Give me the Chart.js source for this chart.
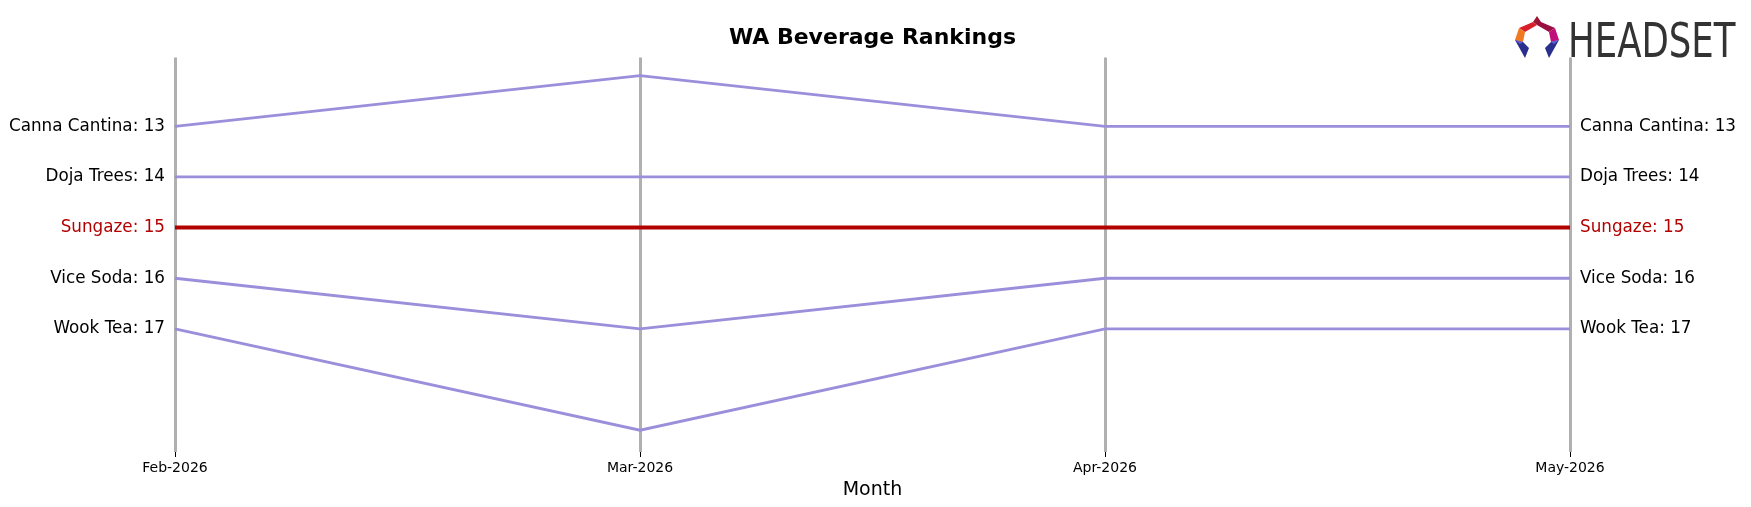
<!DOCTYPE html>
<html><head><meta charset="utf-8">
<script src="https://cdn.jsdelivr.net/npm/chart.js@4"></script>
<style>html,body{margin:0;padding:0;background:#fff}#w{width:1751px;height:507px}</style>
</head><body><div id="w"><canvas id="c"></canvas></div>
<script>
const months = ["Feb-2026","Mar-2026","Apr-2026","May-2026"];
const brands = ["Canna Cantina","Doja Trees","Sungaze","Vice Soda","Wook Tea"];
const cannaCantina = [13,12,13,13];
const dojaTrees = [14,14,14,14];
const sungaze = [15,15,15,15];
const viceSoda = [16,17,16,16];
const wookTea = [17,19,17,17];
const seriesValues = [cannaCantina,dojaTrees,sungaze,viceSoda,wookTea];
const highlight = "Sungaze";

const datasets = brands.map((b,i)=>({
  label:b, data:seriesValues[i],
  borderColor: b===highlight ? '#b30000' : '#9b8fdb',
  borderWidth: b===highlight ? 4 : 2.8,
  pointRadius:0, tension:0, order: b===highlight?0:1
}));

const sideLabels = {
  id:'sideLabels',
  afterDatasetsDraw(chart){
    const ctx=chart.ctx, y=chart.scales.y, a=chart.chartArea;
    ctx.save();
    ctx.font='16.8px "DejaVu Sans"';
    ctx.textBaseline='middle';
    brands.forEach((b,i)=>{
      const d=seriesValues[i];
      ctx.fillStyle = b===highlight ? '#b30000' : '#000';
      ctx.textAlign='right';
      ctx.fillText(b+': '+d[0], a.left-10, y.getPixelForValue(d[0]));
      ctx.textAlign='left';
      ctx.fillText(b+': '+d[d.length-1], a.right+10, y.getPixelForValue(d[d.length-1]));
    });
    const cx=1537, cy=36;
    const pts=(arr,col)=>{ctx.beginPath();arr.forEach((p,k)=>k?ctx.lineTo(cx+p[0],cy+p[1]):ctx.moveTo(cx+p[0],cy+p[1]));ctx.closePath();ctx.fillStyle=col;ctx.fill();};
    pts([[-4,-14],[0,-20],[0,-11]],'#a01830');
    pts([[-4,-14],[-18,-8],[-12,-4],[0,-11]],'#d8202a');
    pts([[4,-14],[0,-20],[0,-11],[12,-4],[18,-8]],'#9a1040');
    pts([[18,-8],[12,-4],[14,6],[22,4]],'#c0107a');
    pts([[-18,-8],[-12,-4],[-14,6],[-22,4]],'#f07a20');
    pts([[-22,4],[-14,6],[-8,12],[-12,22]],'#2a2e8c');
    pts([[22,4],[14,6],[8,12],[12,22]],'#2a2e8c');
    pts([[-22,4],[-14,6],[-17,8]],'#6060d8');
    pts([[22,4],[14,6],[17,8]],'#6060d8');
    ctx.fillStyle='#333';
    ctx.font='48px "DejaVu Sans"';
    ctx.textAlign='left';ctx.textBaseline='alphabetic';
    ctx.save();ctx.translate(1568,57);ctx.scale(0.74,1);ctx.fillText('HEADSET',0,0);ctx.restore();
    ctx.restore();
  }
};

new Chart(document.getElementById('c'),{
  type:'line',
  data:{labels:months,datasets},
  plugins:[sideLabels],
  options:{
    responsive:true,maintainAspectRatio:false,animation:false,
    layout:{padding:{left:175,right:181,top:0,bottom:0}},
    plugins:{legend:{display:false},tooltip:{enabled:false},
      title:{display:true,text:'WA Beverage Rankings',color:'#000',
        font:{family:'DejaVu Sans',size:22,weight:'bold'},padding:{top:25,bottom:6}}},
    scales:{
      y:{reverse:true,min:11.64,max:19.43,display:false},
      x:{offset:false,
        border:{display:false},
        grid:{color:'#b0b0b0',lineWidth:3,tickColor:'#000',tickLength:5,tickWidth:1},
        ticks:{color:'#000',font:{family:'DejaVu Sans',size:14},maxRotation:0,padding:3},
        title:{display:true,text:'Month',color:'#000',font:{family:'DejaVu Sans',size:19},padding:{top:3,bottom:6}},
        afterFit(s){s.height=55;}
      }
    }
  }
});
</script></body></html>
